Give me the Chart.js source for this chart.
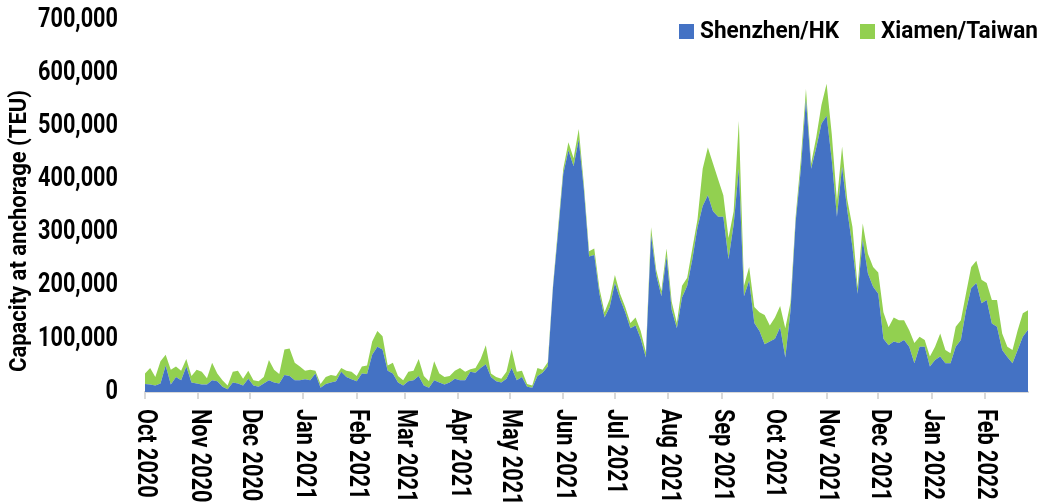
<!DOCTYPE html>
<html>
<head>
<meta charset="utf-8">
<script src="https://cdn.jsdelivr.net/npm/chart.js@4.4.1/dist/chart.umd.min.js"></script>
<style>
  body { margin: 0; background: #fff; }
</style>
</head>
<body>
<canvas id="anchorage" width="1037" height="502"></canvas>
<script>
// capacity at anchorage, thousand TEU, one reading every 3 days from 1 Oct 2020
const shenzhenHK = [
  15, 14, 12, 16, 50, 14, 28, 22, 48, 18, 16, 14, 14, 22, 20, 10, 5, 18, 16, 12, 25, 12, 10, 16, 22, 18, 16,
  32, 30, 22, 22, 24, 22, 35, 8, 15, 18, 20, 38, 28, 24, 20, 35, 34, 70, 85, 80, 40, 35, 18, 12, 20, 22, 30,
  12, 8, 22, 18, 14, 18, 25, 22, 22, 38, 36, 45, 52, 28, 20, 18, 25, 45, 22, 28, 10, 8, 30, 36, 48,
  195, 300, 410, 455, 425, 475, 380, 255, 258, 185, 140, 160, 205, 175, 150, 120, 125, 100, 65, 295, 220, 180, 255, 155, 120,
  178, 200, 250, 310, 350, 370, 340, 330, 330, 250, 315, 420, 180, 210, 130, 115, 90, 95, 100, 122, 65, 152, 320,
  418, 550, 420, 460, 505, 520, 436, 330, 424, 342, 273, 185, 286, 223, 198, 185, 100, 88, 95, 92, 98,
  85, 54, 85, 85, 48, 60, 67, 54, 54, 85, 98, 154, 195, 205, 167, 173, 129, 123, 79, 66, 54, 79, 104, 117
];
const xiamenTaiwan = [
  20, 31, 16, 42, 20, 28, 20, 18, 14, 12, 26, 24, 12, 33, 15, 12, 7, 20, 24, 13, 15, 10, 10, 12, 38, 24, 18,
  48, 52, 33, 26, 16, 20, 5, 7, 13, 14, 10, 7, 12, 14, 10, 13, 16, 25, 30, 25, 10, 20, 12, 10, 18, 18, 32,
  18, 12, 36, 17, 14, 12, 15, 23, 16, 5, 9, 17, 36, 7, 8, 7, 13, 35, 16, 12, 5, 4, 15, 6, 8,
  5, 10, 10, 15, 15, 20, 10, 10, 12, 10, 10, 15, 15, 10, 10, 10, 15, 15, 10, 15, 10, 10, 15, 15, 10,
  22, 15, 20, 15, 70, 90, 90, 70, 40, 40, 25, 90, 20, 25, 30, 35, 55, 30, 40, 40, 55, 16, 10,
  19, 20, 10, 20, 35, 60, 49, 30, 38, 20, 38, 13, 31, 37, 37, 40, 50, 34, 45, 43, 37,
  31, 38, 19, 13, 19, 25, 43, 25, 19, 38, 37, 32, 40, 42, 44, 32, 44, 50, 31, 19, 25, 37, 44, 37
];

// days since 1 Oct 2020 where each month begins
const monthStarts = [0, 31, 61, 92, 123, 151, 182, 212, 243, 273, 304, 335, 365, 396, 426, 457, 488];
const monthLabels = [
  "Oct 2020", "Nov 2020", "Dec 2020", "Jan 2021", "Feb 2021", "Mar 2021", "Apr 2021", "May 2021",
  "Jun 2021", "Jul 2021", "Aug 2021", "Sep 2021", "Oct 2021", "Nov 2021", "Dec 2021", "Jan 2022", "Feb 2022"
];
const yTicks = [0, 100000, 200000, 300000, 400000, 500000, 600000, 700000];

const sampleDays = shenzhenHK.map((_, i) => i * 3);
const FONT = "Roboto, 'DejaVu Sans', sans-serif";

// the reference uses a condensed face, so text is squeezed sideways
function drawText(ctx, text, x, y, size, align, angle, squeeze) {
  ctx.save();
  ctx.font = "bold " + size + "px " + FONT;
  ctx.textAlign = align;
  ctx.textBaseline = "middle";
  ctx.translate(x, y);
  if (angle) ctx.rotate(angle);
  ctx.scale(squeeze, 1);
  ctx.fillText(text, 0, 0);
  ctx.restore();
}

function squeezeFor(ctx, text, size, width) {
  ctx.save();
  ctx.font = "bold " + size + "px " + FONT;
  const w = ctx.measureText(text).width;
  ctx.restore();
  return width / w;
}

const extraText = {
  id: "extraText",
  afterDraw(chart) {
    const ctx = chart.ctx;
    const xs = chart.scales.x;
    const ys = chart.scales.y;
    ctx.save();
    ctx.fillStyle = "#000";

    const tickSqueeze = squeezeFor(ctx, "700,000", 27, 80);
    yTicks.forEach((v) => {
      drawText(ctx, v.toLocaleString("en-US"), 118, ys.getPixelForValue(v), 27, "right", 0, tickSqueeze);
    });

    monthStarts.forEach((d, i) => {
      drawText(ctx, monthLabels[i], xs.getPixelForValue(d), xs.top + 17, 27, "left", Math.PI / 2, tickSqueeze);
    });

    const title = "Capacity at anchorage (TEU)";
    drawText(ctx, title, 20, 231, 24, "center", -Math.PI / 2, squeezeFor(ctx, title, 24, 282));

    const legendX = [679, 860];
    const legendW = [139, 157];
    chart.data.datasets.forEach((ds, i) => {
      ctx.fillStyle = ds.backgroundColor;
      ctx.fillRect(legendX[i], 24, 15, 15);
      ctx.fillStyle = "#000";
      drawText(ctx, ds.label, legendX[i] + 21, 32, 24, "left", 0, squeezeFor(ctx, ds.label, 24, legendW[i]));
    });
    ctx.restore();
  }
};

const ctx = document.getElementById("anchorage");
window.anchorageChart = new Chart(ctx, {
  type: "line",
  data: {
    datasets: [
      {
        label: "Shenzhen/HK",
        data: sampleDays.map((d, i) => ({ x: d, y: shenzhenHK[i] * 1000 })),
        backgroundColor: "#4472C4",
        borderWidth: 0,
        pointRadius: 0,
        fill: "origin",
      },
      {
        label: "Xiamen/Taiwan",
        data: sampleDays.map((d, i) => ({ x: d, y: xiamenTaiwan[i] * 1000 })),
        backgroundColor: "#92D050",
        borderWidth: 0,
        pointRadius: 0,
        fill: "-1",
      },
    ],
  },
  options: {
    responsive: false,
    animation: false,
    layout: { padding: { top: 20, right: 9, bottom: 0, left: 0 } },
    plugins: {
      legend: { display: false },
      tooltip: { enabled: false },
    },
    scales: {
      x: {
        type: "linear",
        min: 0,
        max: 513,
        afterBuildTicks: (scale) => {
          scale.ticks = monthStarts.map((v) => ({ value: v }));
        },
        afterFit: (scale) => {
          scale.height = 110;
        },
        ticks: { display: false },
        grid: {
          drawOnChartArea: false,
          drawTicks: true,
          tickLength: 7,
          color: "#d9d9d9",
          lineWidth: 2,
        },
        border: { color: "#d9d9d9", width: 2 },
      },
      y: {
        stacked: true,
        min: 0,
        max: 700000,
        afterBuildTicks: (scale) => {
          scale.ticks = yTicks.map((v) => ({ value: v }));
        },
        afterFit: (scale) => {
          scale.width = 145;
        },
        ticks: { display: false },
        grid: { display: false, drawTicks: false },
        border: { display: false },
      },
    },
  },
  plugins: [extraText],
});
</script>
</body>
</html>
